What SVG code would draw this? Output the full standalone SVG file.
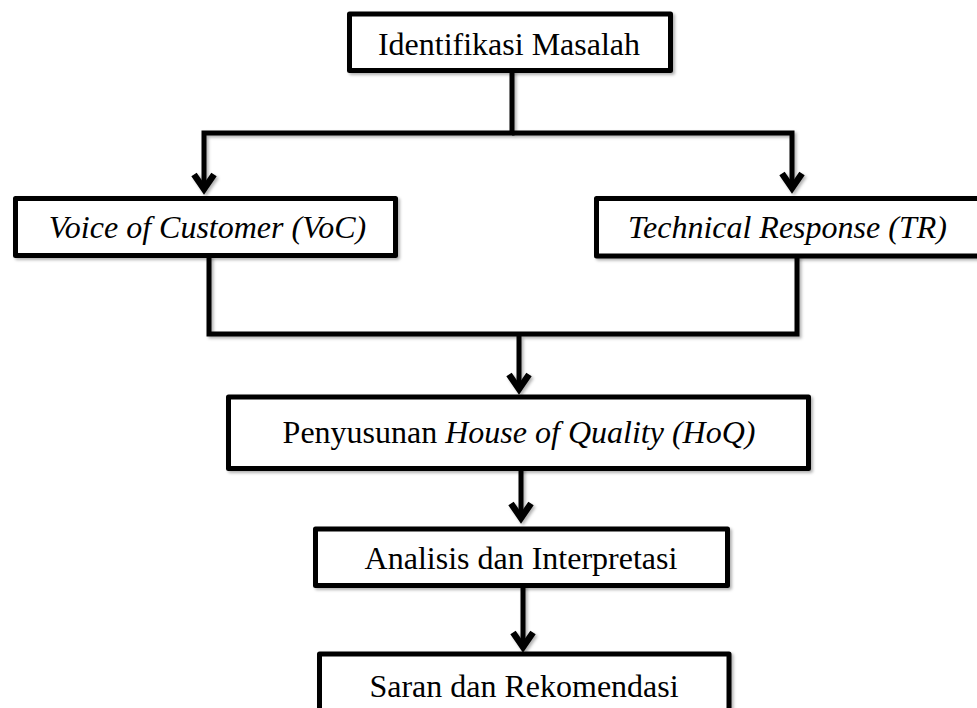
<svg xmlns="http://www.w3.org/2000/svg" width="977" height="708" viewBox="0 0 977 708">
  <style>
    .box { fill: #fff; stroke: #000; stroke-width: 5; stroke-linejoin: round; filter: url(#shade); }
    .wire { fill: none; stroke: #000; stroke-width: 5; stroke-linejoin: miter; }
    .lbl { font-family: "Liberation Serif", "Times New Roman", serif; font-size: 32px; fill: #000; text-anchor: middle; }
    .it { font-style: italic; }
  </style>
  <defs>
    <filter id="shade" x="-5%" y="-5%" width="115%" height="130%">
      <feDropShadow dx="2" dy="2" stdDeviation="1.5" flood-color="#000" flood-opacity="0.3"/>
    </filter>
    <!-- open chevron arrowhead -->
    <marker id="chev" markerUnits="userSpaceOnUse" markerWidth="40" markerHeight="40" viewBox="-20 -20 40 40" refX="0" refY="0" orient="auto" overflow="visible">
      <path d="M-14.5,-10 L0,0 L-14.5,10" fill="none" stroke="#000" stroke-width="6.5" stroke-linejoin="miter"/>
    </marker>
  </defs>

  <rect width="977" height="708" fill="#fff"/>

  <!-- connectors -->
  <g id="connectors" filter="url(#shade)">
    <path class="wire" d="M512,71 V133 H204 V189" marker-end="url(#chev)"/>
    <path class="wire" d="M512,133 H792 V188" marker-end="url(#chev)"/>
    <path class="wire" d="M209,256 V334 H797 V256"/>
    <path class="wire" d="M519,334 V389" marker-end="url(#chev)"/>
    <path class="wire" d="M521,468 V518" marker-end="url(#chev)"/>
    <path class="wire" d="M523,585 V647" marker-end="url(#chev)"/>
  </g>

  <!-- nodes -->
  <g id="identifikasi">
    <rect class="box" x="349.5" y="14" width="321" height="56.5"/>
    <text class="lbl" x="509" y="55">Identifikasi Masalah</text>
  </g>

  <g id="voc">
    <rect class="box" x="15.5" y="198.5" width="380" height="57"/>
    <text class="lbl it" x="207.5" y="238">Voice of Customer (VoC)</text>
  </g>

  <g id="tr">
    <rect class="box" x="596.5" y="198.5" width="390" height="57.5"/>
    <text class="lbl it" x="787.5" y="238">Technical Response (TR)</text>
  </g>

  <g id="hoq">
    <rect class="box" x="228.5" y="397" width="580" height="71.5"/>
    <text class="lbl" x="519" y="443">Penyusunan <tspan class="it">House of Quality (HoQ)</tspan></text>
  </g>

  <g id="analisis">
    <rect class="box" x="315.5" y="529" width="412" height="56.5"/>
    <text class="lbl" x="521" y="569">Analisis dan Interpretasi</text>
  </g>

  <g id="saran">
    <rect class="box" x="319.5" y="654" width="409.5" height="70"/>
    <text class="lbl" x="524" y="697">Saran dan Rekomendasi</text>
  </g>
</svg>
